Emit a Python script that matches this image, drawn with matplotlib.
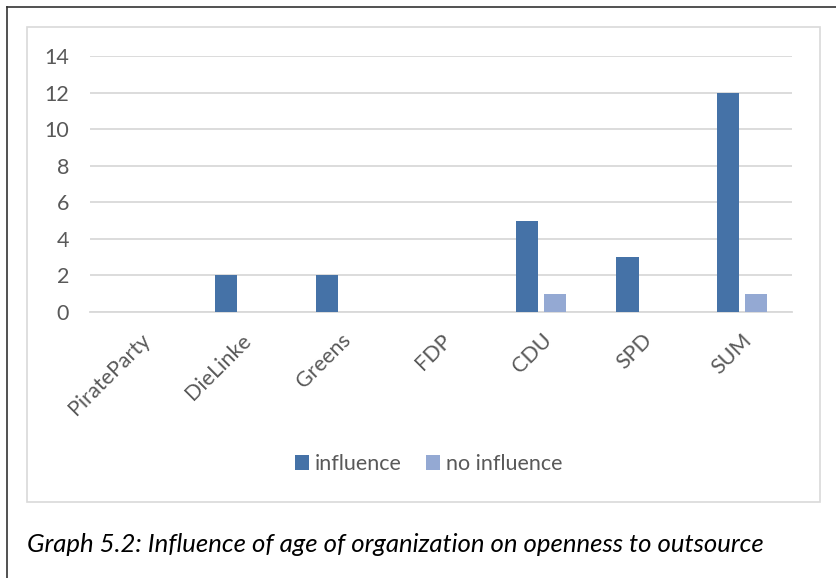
import matplotlib.pyplot as plt
from matplotlib.patches import Rectangle
from matplotlib.lines import Line2D
import numpy as np

# --- data
parties = ['PirateParty', 'DieLinke', 'Greens', 'FDP', 'CDU', 'SPD', 'SUM']
influence = [0, 2, 2, 0, 5, 3, 12]
no_influence = [0, 0, 0, 0, 1, 0, 1]
caption = 'Graph 5.2: Influence of age of organization on openness to outsource'

plt.rcParams['font.family'] = ['Lato', 'DejaVu Sans']

W, H = 837, 578
fig = plt.figure(figsize=(W / 100, H / 100), dpi=100)
fig.patch.set_facecolor('white')

# outer page border (left + top) and light chart frame
fig.add_artist(Line2D([7 / W, 7 / W], [0, 1 - 7 / H], color='#333333', lw=1.2))
fig.add_artist(Line2D([7 / W, 1], [1 - 7 / H, 1 - 7 / H], color='#333333', lw=1.2))
fig.add_artist(Rectangle((27 / W, 1 - 502 / H), (820 - 27) / W, (502 - 27) / H,
                         fill=False, edgecolor='#d9d9d9', lw=1.2))

ax = fig.add_axes([90 / W, 1 - 312 / H, (792 - 90) / W, (312 - 56) / H])
x = np.arange(len(parties))
w = 0.22
ax.bar(x - 0.14, influence, w, color='#4572a7', lw=0, label='influence', zorder=3)
ax.bar(x + 0.14, no_influence, w, color='#94a9d3', lw=0, label='no influence', zorder=3)

ax.set_xlim(-0.5, len(parties) - 0.5)
ax.set_ylim(0, 14)
ax.set_yticks(range(0, 15, 2))
ax.grid(axis='y', color='#d9d9d9', lw=1.3, zorder=0)
for s in ['top', 'right', 'left']:
    ax.spines[s].set_visible(False)
ax.spines['bottom'].set_color('#d9d9d9')
ax.spines['bottom'].set_linewidth(1.3)
ax.tick_params(axis='both', length=0, labelcolor='#595959', labelsize=15.5)
ax.tick_params(axis='y', pad=15)
ax.set_xticks(x)
ax.set_xticklabels(parties, rotation=45, ha='right', rotation_mode='anchor')
ax.tick_params(axis='x', pad=13)

fig.legend(loc='center', bbox_to_anchor=(0.512, 1 - 464 / H), ncol=2, frameon=False,
           fontsize=15.5, labelcolor='#595959', handlelength=0.65, handleheight=0.7,
           handletextpad=0.3, columnspacing=1.1)

fig.text(27 / W, 1 - 545 / H, caption, fontsize=18.5, style='italic', va='center', ha='left')

fig.savefig('out.png', dpi=100)
